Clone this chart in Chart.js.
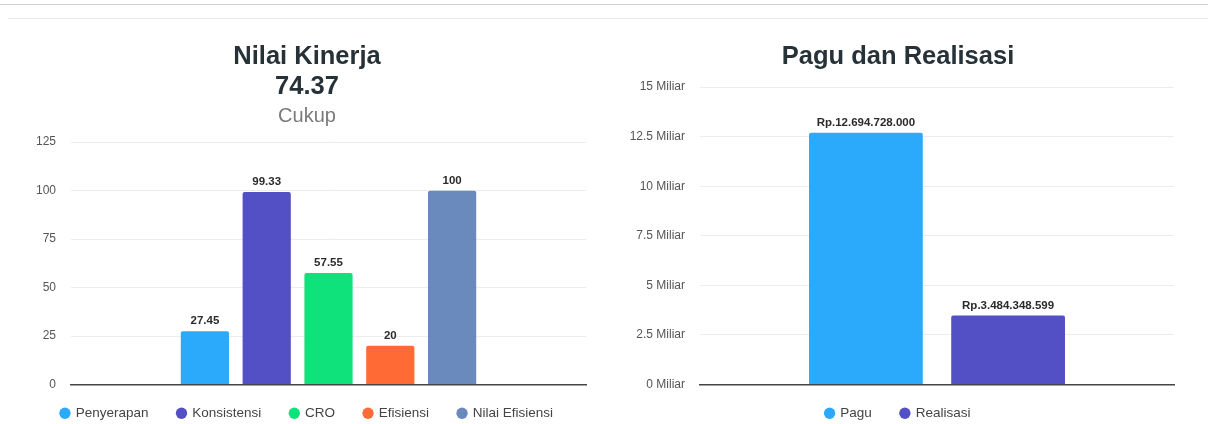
<!DOCTYPE html>
<html>
<head>
<meta charset="utf-8">
<script src="https://cdn.jsdelivr.net/npm/chart.js@4.4.0/dist/chart.umd.min.js"></script>
<style>
  html, body { margin: 0; padding: 0; background: #fff; width: 1208px; height: 424px; overflow: hidden; position: relative; }
  .line1 { position: absolute; left: 0; top: 4px; width: 1208px; height: 1px; background: #cfcfcf; }
  .line2 { position: absolute; left: 8px; top: 18px; width: 1200px; height: 1px; background: #e8e8e8; }
  #c1 { position: absolute; left: 28px; top: 30px; }
  #c2 { position: absolute; left: 622px; top: 30px; }
</style>
</head>
<body>
<div class="line1"></div>
<div class="line2"></div>
<canvas id="c1" width="584" height="402"></canvas>
<canvas id="c2" width="584" height="402"></canvas>
<script>
// ---- Data ----
const kinerjaCategories = ['Penyerapan', 'Konsistensi', 'CRO', 'Efisiensi', 'Nilai Efisiensi'];
const kinerjaValues = [27.45, 99.33, 57.55, 20, 100];
const kinerjaColors = ['#2ba9fb', '#534fc5', '#0fe27b', '#ff6a35', '#6a89bd'];
const kinerjaTicks = [0, 25, 50, 75, 100, 125];
const kinerjaTitle = ['Nilai Kinerja', '74.37'];
const kinerjaSubtitle = 'Cukup';

const paguCategories = ['Pagu', 'Realisasi'];
const paguValues = [12694728000, 3484348599];
const paguColors = ['#2ba9fb', '#534fc5'];
const paguTickLabels = ['0 Miliar', '2.5 Miliar', '5 Miliar', '7.5 Miliar', '10 Miliar', '12.5 Miliar', '15 Miliar'];

const FONT = "'Liberation Sans', Arial, sans-serif";
Chart.defaults.font.family = FONT;
Chart.defaults.color = '#555';

function rp(v) {
  return 'Rp.' + String(Math.round(v)).replace(/\B(?=(\d{3})+(?!\d))/g, '.');
}

const valueLabels = {
  id: 'valueLabels',
  afterDatasetsDraw(chart, args, opts) {
    const ctx = chart.ctx;
    ctx.save();
    ctx.font = 'bold 11.5px ' + FONT;
    ctx.fillStyle = '#2b2b2b';
    ctx.textAlign = 'center';
    ctx.textBaseline = 'middle';
    chart.data.datasets.forEach((ds, i) => {
      const meta = chart.getDatasetMeta(i);
      meta.data.forEach((el, j) => {
        ctx.fillText(opts.format(ds.data[j]), el.x, el.y - 10);
      });
    });
    ctx.restore();
  }
};

// tighten the vertical space taken by the legend while keeping its horizontal spacing
const legendShift = {
  id: 'legendShift',
  afterInit(chart, args, opts) {
    const lg = chart.legend;
    if (!lg) return;
    const fit = lg.fit;
    lg.fit = function () { fit.call(this); this.height -= opts.shift; };
  },
  afterLayout(chart, args, opts) {
    const lg = chart.legend;
    if (!lg) return;
    lg.top -= opts.shift;
    lg.bottom -= opts.shift;
  }
};

function legendOpts() {
  return {
    position: 'bottom',
    labels: {
      usePointStyle: true,
      pointStyle: 'circle',
      boxWidth: 8,
      boxHeight: 8,
      padding: 29,
      color: '#444',
      font: { size: 13.5, family: FONT }
    }
  };
}

new Chart(document.getElementById('c1'), {
  type: 'bar',
  data: {
    labels: [''],
    datasets: kinerjaCategories.map((name, i) => ({
      label: name,
      data: [kinerjaValues[i]],
      backgroundColor: kinerjaColors[i],
      borderRadius: 2,
      borderSkipped: 'bottom'
    }))
  },
  options: {
    responsive: false,
    animation: false,
    layout: { padding: { left: 0, right: 26, top: 8, bottom: 2 } },
    datasets: { bar: { categoryPercentage: 0.6, barPercentage: 0.78 } },
    plugins: {
      title: {
        display: true,
        text: kinerjaTitle,
        color: '#263238',
        font: { size: 25.5, weight: 'bold', family: FONT, lineHeight: 1.18 },
        padding: { top: 4, bottom: 2 }
      },
      subtitle: {
        display: true,
        text: kinerjaSubtitle,
        color: '#7a7a7a',
        font: { size: 20, family: FONT, lineHeight: 1.2 },
        padding: { top: 0, bottom: 14 }
      },
      legend: legendOpts(),
      tooltip: { enabled: false },
      valueLabels: { format: v => String(v) },
      legendShift: { shift: 7 }
    },
    scales: {
      x: {
        ticks: { display: false },
        grid: { display: false, drawTicks: false },
        border: { display: true, color: '#454545', width: 1.5 }
      },
      y: {
        min: 0, max: 125,
        afterBuildTicks: s => { s.ticks = kinerjaTicks.map(v => ({ value: v })); },
        afterFit: s => { s.width = 43; },
        ticks: { padding: 15, color: '#555', font: { size: 12, family: FONT } },
        grid: { color: '#ececec', drawTicks: false },
        border: { display: false }
      }
    }
  },
  plugins: [valueLabels, legendShift]
});

new Chart(document.getElementById('c2'), {
  type: 'bar',
  data: {
    labels: [''],
    datasets: paguCategories.map((name, i) => ({
      label: name,
      data: [paguValues[i]],
      backgroundColor: paguColors[i],
      borderRadius: 2,
      borderSkipped: 'bottom'
    }))
  },
  options: {
    responsive: false,
    animation: false,
    layout: { padding: { left: 0, right: 32, top: 8, bottom: 2 } },
    datasets: { bar: { categoryPercentage: 0.6, barPercentage: 0.8 } },
    plugins: {
      title: {
        display: true,
        text: 'Pagu dan Realisasi',
        color: '#263238',
        font: { size: 25.5, weight: 'bold', family: FONT, lineHeight: 1.18 },
        padding: { top: 4, bottom: 15 }
      },
      legend: legendOpts(),
      tooltip: { enabled: false },
      valueLabels: { format: rp },
      legendShift: { shift: 7 }
    },
    scales: {
      x: {
        ticks: { display: false },
        grid: { display: false, drawTicks: false },
        border: { display: true, color: '#454545', width: 1.5 }
      },
      y: {
        min: 0, max: 15000000000,
        afterBuildTicks: s => { s.ticks = paguTickLabels.map((t, i) => ({ value: i * 2500000000 })); },
        afterFit: s => { s.width = 78; },
        ticks: {
          padding: 15, color: '#555', font: { size: 12, family: FONT },
          callback: (v, i) => paguTickLabels[i]
        },
        grid: { color: '#ececec', drawTicks: false },
        border: { display: false }
      }
    }
  },
  plugins: [valueLabels, legendShift]
});
</script>
</body>
</html>
